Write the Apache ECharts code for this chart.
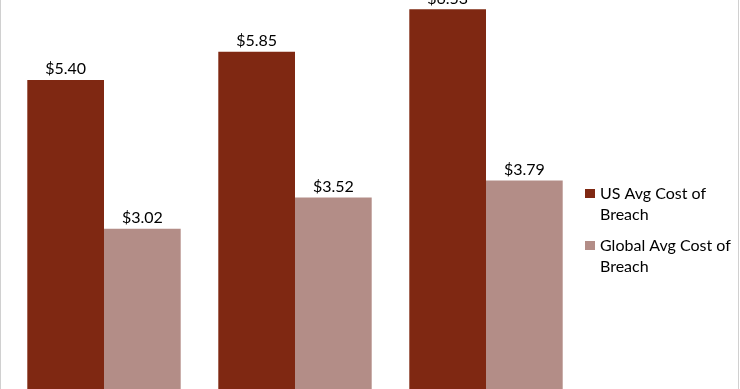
<!DOCTYPE html>
<html>
<head>
<meta charset="utf-8">
<script src="https://cdn.jsdelivr.net/npm/echarts@6/dist/echarts.min.js"></script>
<style>
html,body{margin:0;padding:0;background:#fff;}
#c{width:740px;height:389px;}
</style>
</head>
<body>
<div id="c"></div>
<script>
var categories = ['Year 1', 'Year 2', 'Year 3'];
var usCost = [5.40, 5.85, 6.53];
var globalCost = [3.02, 3.52, 3.79];
var seriesNames = ['US Avg Cost of Breach', 'Global Avg Cost of Breach'];

var chart = echarts.init(document.getElementById('c'), null, {renderer: 'canvas'});
var font = 'Lato, "Noto Sans", sans-serif';
var labelCfg = {
  show: true, position: 'top', distance: 3,
  color: '#000', fontSize: 16, fontFamily: font,
  formatter: function (p) { return '$' + p.value.toFixed(2); }
};
chart.setOption({
  animation: false,
  backgroundColor: '#fff',
  grid: {left: 8.5, width: 573, top: 0, bottom: 0, containLabel: false},
  xAxis: {
    type: 'category', data: categories,
    axisLine: {show: false}, axisTick: {show: false}, axisLabel: {show: false}
  },
  yAxis: {
    type: 'value', min: 0.455, max: 6.68,
    axisLine: {show: false}, axisTick: {show: false}, axisLabel: {show: false},
    splitLine: {show: false}
  },
  legend: {
    orient: 'vertical', left: 585, top: 162, padding: 0,
    itemWidth: 10, itemHeight: 9, itemGap: -11,
    icon: 'rect',
    data: seriesNames,
    formatter: function (n) { return '\n' + n.replace(' of ', ' of\n'); },
    textStyle: {fontSize: 16, fontFamily: font, color: '#000', lineHeight: 21}
  },
  graphic: [
    {type: 'line', shape: {x1: 0.5, y1: 0, x2: 0.5, y2: 389}, style: {stroke: '#d0d0d0', lineWidth: 1}},
    {type: 'line', shape: {x1: 738.5, y1: 0, x2: 738.5, y2: 389}, style: {stroke: '#d0d0d0', lineWidth: 1}}
  ],
  series: [
    {name: seriesNames[0], type: 'bar', data: usCost, barWidth: 76.7, barGap: '0%',
     itemStyle: {color: '#7F2812'}, label: labelCfg},
    {name: seriesNames[1], type: 'bar', data: globalCost, barWidth: 76.7, barGap: '0%',
     itemStyle: {color: '#B38D87'}, label: labelCfg}
  ]
});
</script>
</body>
</html>
